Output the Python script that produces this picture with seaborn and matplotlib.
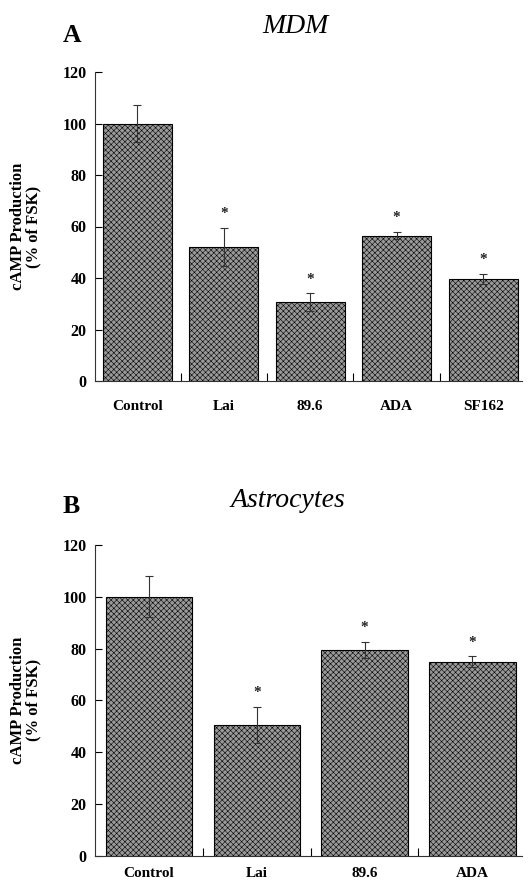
import matplotlib
matplotlib.use("Agg")
import matplotlib.pyplot as plt
import seaborn as sns
import pandas as pd
import numpy as np

# ---- data ----
cats_a = ["Control", "Lai", "89.6", "ADA", "SF162"]
vals_a = [100, 52, 30.5, 56.5, 39.5]
errs_a = [7, 7.5, 3.5, 1.5, 2]
star_a = [False, True, True, True, True]

cats_b = ["Control", "Lai", "89.6", "ADA"]
vals_b = [100, 50.5, 79.5, 75]
errs_b = [8, 7, 3, 2]
star_b = [False, True, True, True]

yticks = [0, 20, 40, 60, 80, 100, 120]

sns.set_theme(style="ticks")
plt.rcParams['font.family'] = ['Liberation Serif', 'DejaVu Serif']
plt.rcParams['hatch.linewidth'] = 0.4
plt.rcParams['hatch.color'] = '#222222'
for k in ['text.color', 'axes.labelcolor', 'xtick.color', 'ytick.color']:
    plt.rcParams[k] = 'black'

fig = plt.figure(figsize=(5.31, 8.81), dpi=100)


def panel(rect, cats, vals, errs, stars, letter, title, letter_pos, title_pos,
          xlim, xpad):
    ax = fig.add_axes(rect)
    df = pd.DataFrame({"cat": cats, "val": vals})
    sns.barplot(data=df, x="cat", y="val", color="#999999", width=0.8,
                edgecolor="black", linewidth=0.8, errorbar=None, ax=ax,
                saturation=1)
    for p in ax.patches:
        p.set_hatch("xxxxxx")
    xs = np.arange(len(cats))
    ax.errorbar(xs, vals, yerr=errs, fmt="none", ecolor="#333333",
                elinewidth=0.8, capsize=3, capthick=0.8, zorder=5)
    for x, v, e, s in zip(xs, vals, errs, stars):
        if s:
            ax.text(x, v + e + 5.5, "*", ha="center", va="center",
                    fontsize=11, fontweight="bold", color="#222222")
    ax.set_ylim(0, 120)
    ax.set_xlim(*xlim)
    ax.set_yticks(yticks)
    ax.set_yticklabels([str(t) for t in yticks], fontsize=11.5, fontweight="bold")
    ax.set_xticks(xs)
    ax.set_xticklabels(cats, fontsize=11, fontweight="bold")
    ax.set_xticks(xs[:-1] + 0.5, minor=True)
    ax.tick_params(axis="x", which="major", length=0, pad=xpad)
    ax.tick_params(axis="x", which="minor", direction="in", length=6, width=0.8)
    ax.tick_params(axis="y", direction="in", length=5, width=0.8, pad=6)
    ax.set_xlabel("")
    ax.set_ylabel("cAMP Production\n(% of FSK)", fontsize=12, fontweight="bold",
                  linespacing=0.95)
    ax.yaxis.set_label_coords(-0.125, 0.5)
    for sp in ["top", "right"]:
        ax.spines[sp].set_visible(False)
    for sp in ["left", "bottom"]:
        ax.spines[sp].set_linewidth(0.8)
        ax.spines[sp].set_color("#333333")
    fig.text(letter_pos[0], letter_pos[1], letter, fontsize=18.5,
             fontweight="bold", ha="left", va="baseline")
    fig.text(title_pos[0], title_pos[1], title, fontsize=20,
             fontstyle="italic", ha="center", va="baseline")
    return ax


panel([95 / 531, 1 - 381 / 881, 427 / 531, 309 / 881],
      cats_a, vals_a, errs_a, star_a, "A", "MDM",
      (63 / 531, 1 - 42 / 881), (295 / 531, 1 - 33 / 881), (-0.49, 4.45), 14)

panel([95 / 531, 1 - 855.7 / 881, 427 / 531, 310.7 / 881],
      cats_b, vals_b, errs_b, star_b, "B", "Astrocytes",
      (63 / 531, 1 - 513 / 881), (288 / 531, 1 - 507 / 881), (-0.50, 3.46), 8)

fig.savefig("out.png", dpi=100)
